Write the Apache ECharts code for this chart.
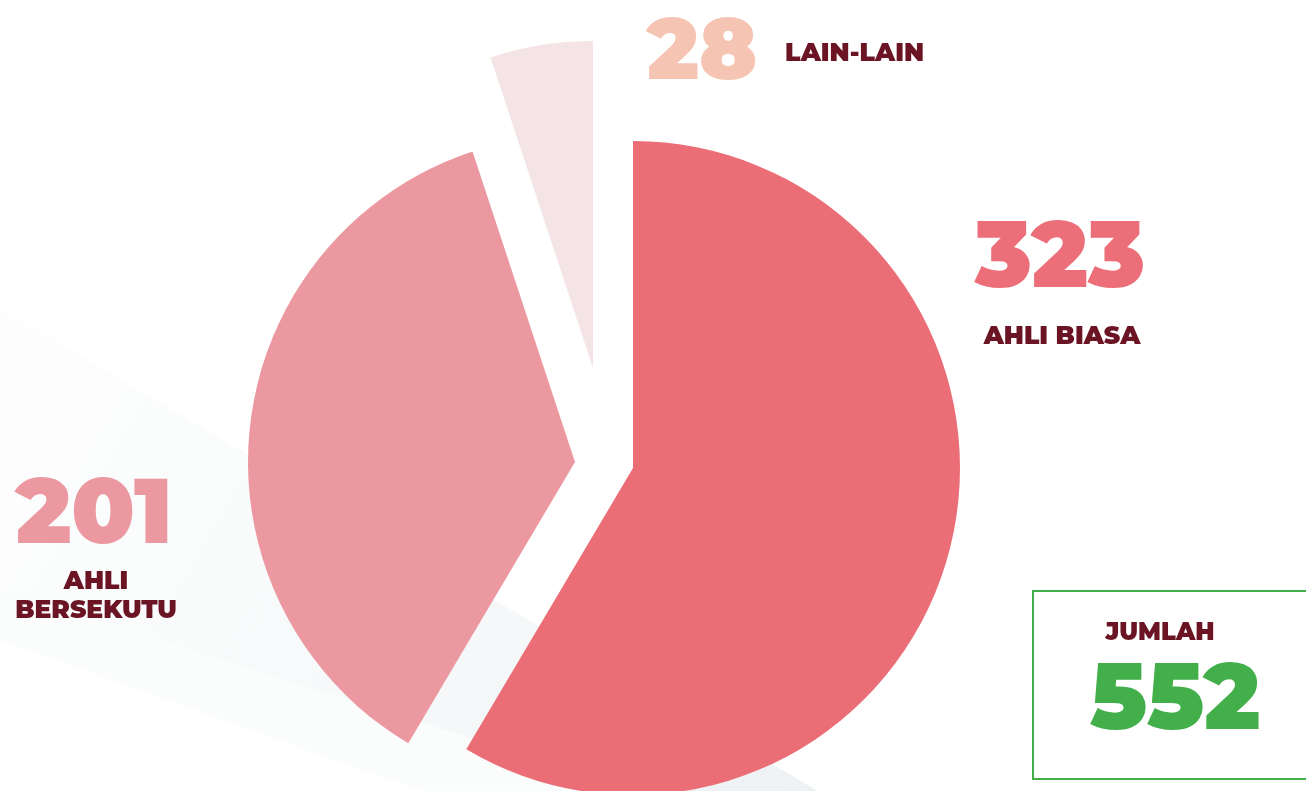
<!DOCTYPE html>
<html lang="ms">
<head>
  <meta charset="UTF-8">
  <title>Keahlian</title>
  <style>
    html, body { margin: 0; padding: 0; background: #fff; }
    #main { width: 1306px; height: 791px; }
  </style>
</head>
<body>
  <div id="main"></div>
  <script src="https://cdn.jsdelivr.net/npm/echarts@6/dist/echarts.min.js"></script>
  <script>
    // data
    const categories = ['AHLI BIASA', 'AHLI BERSEKUTU', 'LAIN-LAIN'];
    const values = [323, 201, 28];
    const totalLabel = 'JUMLAH';
    const total = 552;

    // style
    const sliceColors = ['#eb6e77', '#eb98a1', '#f4e4e5'];
    const numColors = ['#ec6e78', '#eb98a1', '#f5c4b2'];
    const dark = '#6b1424';
    const green = '#43af4b';
    const font = 'Montserrat, Lato, "Open Sans", sans-serif';

    // each slice sits on its own centre (exploded pie)
    const centers = [[633, 468], [575, 462], [593, 368]];

    let myChart = echarts.init(document.getElementById('main'));

    let series = categories.map(function (name, i) {
      return {
        type: 'pie',
        center: centers[i],
        radius: 327,
        startAngle: 90,
        clockwise: true,
        silent: true,
        animation: false,
        label: { show: false },
        labelLine: { show: false },
        data: values.map(function (v, j) {
          return {
            name: categories[j],
            value: v,
            itemStyle: { color: j === i ? sliceColors[j] : 'rgba(0,0,0,0)' }
          };
        })
      };
    });

    // text positions
    const numPos = [[1060, 260], [94, 516], [702, 54]];
    const bigSize = [93, 92, 86];

    let graphic = [
      // faint light rays in the background
      {
        type: 'polygon', z: -10, silent: true,
        shape: { points: [[0, 308], [818, 791], [640, 791], [0, 590]] },
        style: {
          fill: new echarts.graphic.LinearGradient(0, 0, 1, 1, [
            { offset: 0, color: 'rgba(240,244,246,0.1)' },
            { offset: 1, color: 'rgba(232,237,240,0.75)' }
          ])
        }
      },
      {
        type: 'polygon', z: -10, silent: true,
        shape: { points: [[0, 590], [640, 791], [420, 791], [0, 640]] },
        style: { fill: 'rgba(243,246,247,0.35)' }
      },
      // total box
      {
        type: 'rect', z: 5, silent: true,
        shape: { x: 1033, y: 591, width: 300, height: 188 },
        style: { fill: 'rgba(255,255,255,0)', stroke: green, lineWidth: 2 }
      },
      {
        type: 'text', z: 6,
        style: { text: totalLabel, x: 1160, y: 633, align: 'center', verticalAlign: 'middle',
                 font: '900 24px ' + font, fill: dark }
      },
      {
        type: 'text', z: 6,
        style: { text: String(total), x: 1175, y: 702, align: 'center', verticalAlign: 'middle',
                 font: '900 93px ' + font, fill: green }
      }
    ];

    categories.forEach(function (name, i) {
      graphic.push({
        type: 'text', z: 6,
        style: { text: String(values[i]), x: numPos[i][0], y: numPos[i][1],
                 align: 'center', verticalAlign: 'middle',
                 font: '900 ' + bigSize[i] + 'px ' + font, fill: numColors[i] }
      });
    });

    // category captions
    graphic.push(
      { type: 'text', z: 6,
        style: { text: categories[0], x: 1062, y: 337, align: 'center', verticalAlign: 'middle',
                 font: '900 25px ' + font, fill: dark } },
      { type: 'text', z: 6,
        style: { text: categories[1].split(' ').join('\n'), x: 96, y: 596, align: 'center',
                 verticalAlign: 'middle', lineHeight: 29, font: '900 25px ' + font, fill: dark } },
      { type: 'text', z: 6,
        style: { text: categories[2], x: 785, y: 54, align: 'left', verticalAlign: 'middle',
                 font: '900 25px ' + font, fill: dark } }
    );

    myChart.setOption({
      backgroundColor: '#ffffff',
      series: series,
      graphic: graphic
    });
  </script>
</body>
</html>
